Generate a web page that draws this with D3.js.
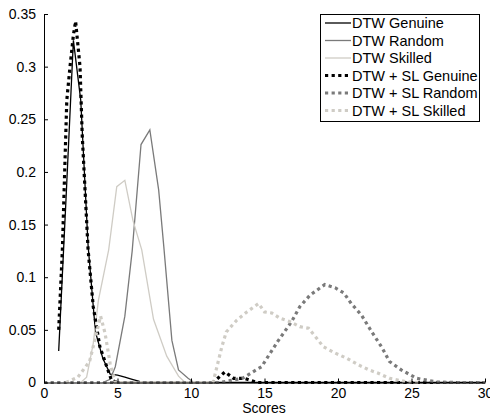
<!DOCTYPE html>
<html>
<head>
<meta charset="utf-8">
<script src="https://cdn.jsdelivr.net/npm/d3@7"></script>
<style>
body { margin: 0; background: #fff; }
text { font-family: "Liberation Sans", Arial, sans-serif; }
</style>
</head>
<body>
<script>
var w = 490;
var h = 415;

// score distributions
var genuineX = [1, 1.5, 2, 2.5, 3, 3.5, 4, 4.5, 5, 5.5, 6, 6.5, 7, 30];
var genuineY = [0.03, 0.175, 0.325, 0.268, 0.13, 0.048, 0.023, 0.008, 0.007, 0.005, 0.003, 0.001, 0, 0];

var randomX = [4, 4.5, 4.85, 5.5, 6, 6.6, 7.2, 7.8, 8.15, 8.7, 9.15, 9.8, 10.2];
var randomY = [0, 0.003, 0.015, 0.063, 0.125, 0.226, 0.24, 0.183, 0.129, 0.04, 0.012, 0.004, 0];

var skilledX = [2.5, 2.9, 3.35, 3.7, 4.4, 4.95, 5.5, 6.05, 6.65, 7.45, 8.35, 9.15, 9.6];
var skilledY = [0, 0.005, 0.037, 0.078, 0.126, 0.186, 0.192, 0.154, 0.126, 0.06, 0.025, 0.006, 0];

var slGenuineX = [1, 1.25, 1.55, 1.77, 2, 2.15, 2.45, 2.6, 3, 3.35, 3.8, 4.27, 4.6, 5, 11.5, 12.3, 12.9, 13.6, 14.5, 30];
var slGenuineY = [0.05, 0.126, 0.268, 0.3, 0.33, 0.343, 0.3, 0.235, 0.126, 0.072, 0.034, 0.015, 0.002, 0, 0, 0.01, 0.004, 0.004, 0, 0];

var slRandomX = [0, 12, 13.5, 14.8, 15.9, 16.85, 17.4, 18.1, 19.1, 19.8, 20.4, 20.9, 21.6, 22.3, 23, 23.5, 24.3, 25.35, 26.7, 28, 30];
var slRandomY = [0, 0, 0.004, 0.015, 0.039, 0.058, 0.072, 0.083, 0.093, 0.09, 0.085, 0.075, 0.064, 0.048, 0.033, 0.02, 0.012, 0.004, 0.0005, 0, 0];

var slSkilledX = [1.5, 2.3, 3.1, 3.45, 3.85, 4.15, 4.5, 4.85, 11.5, 12.1, 12.4, 13.1, 13.8, 14.6, 15, 15.5, 16.05, 16.7, 17.4, 18, 18.55, 19, 19.8, 20.6, 21.5, 22.1, 22.7, 23.5, 24.7, 25.5];
var slSkilledY = [0, 0.005, 0.02, 0.04, 0.063, 0.047, 0.018, 0, 0, 0.034, 0.048, 0.059, 0.067, 0.075, 0.067, 0.066, 0.061, 0.058, 0.053, 0.0515, 0.042, 0.034, 0.028, 0.023, 0.016, 0.012, 0.009, 0.004, 0.0005, 0];

var xTicks = [0, 5, 10, 15, 20, 25, 30];
var yTicks = [0, 0.05, 0.1, 0.15, 0.2, 0.25, 0.3, 0.35];

var series = [
    { name: "DTW Genuine", xs: genuineX, ys: genuineY, color: "#000", width: 1.3, dash: null },
    { name: "DTW Random", xs: randomX, ys: randomY, color: "#7a7a7a", width: 1.3, dash: null },
    { name: "DTW Skilled", xs: skilledX, ys: skilledY, color: "#cfccc5", width: 1.3, dash: null },
    { name: "DTW + SL Genuine", xs: slGenuineX, ys: slGenuineY, color: "#000", width: 3.2, dash: "3.2,3.4" },
    { name: "DTW + SL Random", xs: slRandomX, ys: slRandomY, color: "#7a7a7a", width: 3.2, dash: "3.2,3.4" },
    { name: "DTW + SL Skilled", xs: slSkilledX, ys: slSkilledY, color: "#cfccc5", width: 3.2, dash: "3.2,3.4" }
];

var svg = d3.select("body")
    .append("svg")
    .attr("width", w)
    .attr("height", h);

var x = d3.scaleLinear().domain([0, 30]).range([44, 485]);
var y = d3.scaleLinear().domain([0, 0.35]).range([382.5, 14]);

var line = d3.line()
    .x(d => x(d[0]))
    .y(d => y(d[1]));

// curves, drawn in the legend order
series.forEach(s => {
    svg.append("path")
        .datum(s.xs.map((v, i) => [v, s.ys[i]]))
        .attr("d", line)
        .attr("fill", "none")
        .attr("stroke", s.color)
        .attr("stroke-width", s.width)
        .attr("stroke-dasharray", s.dash);
});

// axes, matlab style: ticks pointing inward
var xAxis = d3.axisBottom(x).tickValues(xTicks).tickSizeInner(-4).tickSizeOuter(0).tickPadding(6);
var yAxis = d3.axisLeft(y).tickValues(yTicks).tickSizeInner(-4).tickSizeOuter(0).tickPadding(8)
    .tickFormat(d => d === 0 ? "0" : d3.format(".2~f")(d));

var gx = svg.append("g").attr("transform", "translate(0,382.5)").call(xAxis);
var gy = svg.append("g").attr("transform", "translate(44,0)").call(yAxis);

[gx, gy].forEach(g => {
    g.select(".domain").attr("stroke", "#000").attr("stroke-width", 1);
    g.selectAll(".tick line").attr("stroke", "#000");
    g.selectAll(".tick text").attr("font-size", 14).attr("fill", "#000");
});

svg.append("text")
    .attr("x", 264)
    .attr("y", 413)
    .attr("text-anchor", "middle")
    .attr("font-size", 14)
    .text("Scores");

// legend
var legend = svg.append("g");
legend.append("rect")
    .attr("x", 320.5).attr("y", 14.5)
    .attr("width", 159).attr("height", 107)
    .attr("fill", "#fff")
    .attr("stroke", "#000")
    .attr("stroke-width", 1);

series.forEach((s, i) => {
    var ly = 23 + i * 17.5;
    legend.append("line")
        .attr("x1", 325).attr("x2", 351)
        .attr("y1", ly).attr("y2", ly)
        .attr("stroke", s.color)
        .attr("stroke-width", s.width)
        .attr("stroke-dasharray", s.dash);
    legend.append("text")
        .attr("x", 352)
        .attr("y", ly + 5)
        .attr("font-size", 14.5)
        .text(s.name);
});
</script>
</body>
</html>
